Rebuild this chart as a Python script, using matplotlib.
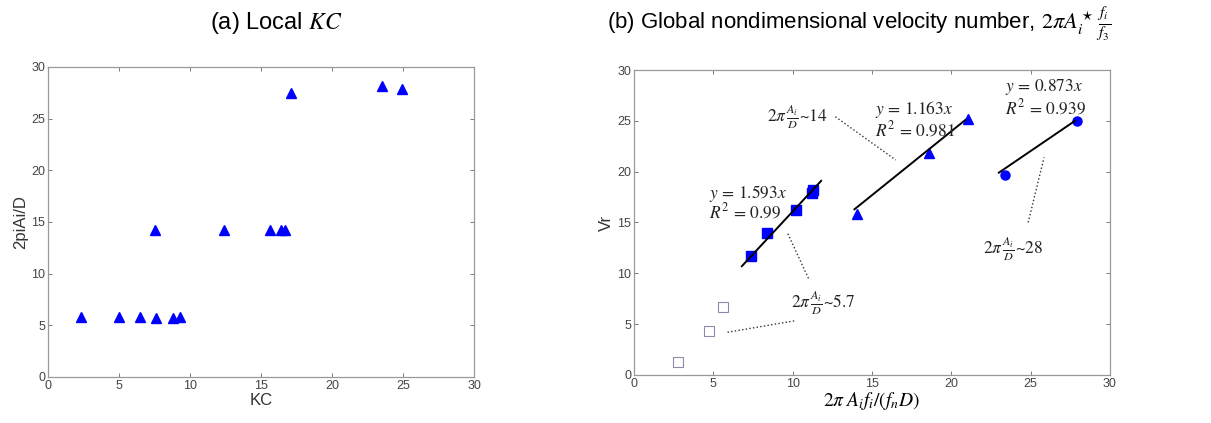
import matplotlib
matplotlib.use("Agg")
import matplotlib.pyplot as plt

plt.rcParams['font.family'] = ['Liberation Sans', 'DejaVu Sans']
plt.rcParams['mathtext.fontset'] = 'stix'

# (a) local KC vs 2*pi*Ai/D
kc = [2.3, 5.0, 6.5, 7.6, 7.5, 8.8, 9.3, 12.4, 15.6, 16.4, 16.7, 17.1, 23.5, 24.9]
amp = [5.8, 5.8, 5.8, 5.7, 14.2, 5.7, 5.8, 14.2, 14.2, 14.2, 14.2, 27.5, 28.1, 27.9]

# (b) Vr vs 2*pi*Ai*fi/(fn*D)
open_x = [2.8, 4.7, 5.6]
open_y = [1.25, 4.3, 6.7]
sq_x = [7.4, 8.4, 10.2, 11.2, 11.3]
sq_y = [11.7, 14.0, 16.2, 17.9, 18.2]
tri_x = [14.05, 18.6, 21.05]
tri_y = [15.8, 21.8, 25.2]
circ_x = [23.4, 27.9]
circ_y = [19.7, 25.0]

# fit line end points
fit_sq_x, fit_sq_y = [6.8, 11.8], [10.7, 19.1]
fit_tri_x, fit_tri_y = [13.9, 20.9], [16.3, 25.1]
fit_circ_x, fit_circ_y = [23.0, 27.8], [19.9, 25.0]

ticks = [0, 5, 10, 15, 20, 25, 30]
blue = '#0000ff'
spine_col = '#999999'


def style(ax):
    ax.set_xlim(0, 30)
    ax.set_ylim(0, 30)
    ax.set_xticks(ticks)
    ax.set_yticks(ticks)
    ax.tick_params(direction='in', top=True, right=True, length=3, width=0.6,
                   colors='#666666', labelsize=9, labelcolor='#444444', pad=2)
    for s in ax.spines.values():
        s.set_color(spine_col)
        s.set_linewidth(0.9)


fig = plt.figure(figsize=(12.11, 4.23), dpi=100)

ax1 = fig.add_axes([0.0396, 0.109, 0.352, 0.733])
ax1.plot(kc, amp, '^', color=blue, ms=7.5, mec=blue)
style(ax1)
ax1.set_xlabel('KC', fontsize=12, labelpad=1, color='#333333')
ax1.set_ylabel('2piAi/D', fontsize=12, labelpad=2, color='#333333')
fig.text(0.2285, 0.945, '(a) Local $KC$', fontsize=17, ha='center', va='center')

ax2 = fig.add_axes([0.5235, 0.1135, 0.393, 0.721])
ax2.plot(open_x, open_y, 's', mfc='white', mec='#8a8aaa', ms=7, mew=0.8)
ax2.plot(sq_x, sq_y, 's', color=blue, ms=6.5)
ax2.plot(tri_x, tri_y, '^', color=blue, ms=7)
ax2.plot(circ_x, circ_y, 'o', color=blue, ms=6.5)
ax2.plot(fit_sq_x, fit_sq_y, 'k-', lw=1.4)
ax2.plot(fit_tri_x, fit_tri_y, 'k-', lw=1.4)
ax2.plot(fit_circ_x, fit_circ_y, 'k-', lw=1.4)
style(ax2)
ax2.set_xlabel(r'$2\pi\;A_i f_i/(f_nD)$', fontsize=14, labelpad=0)
ax2.set_ylabel('Vr', fontsize=12, labelpad=2, color='#333333')

ann = dict(fontsize=12.5, color='#222222', family='STIXGeneral')
ax2.text(4.7, 17.9, r'$y\,=\,1.593x$', va='center', ha='left', **ann)
ax2.text(4.7, 16.0, r'$R^2\,=\,0.99$', va='center', ha='left', **ann)
ax2.text(15.2, 26.1, r'$y\,=\,1.163x$', va='center', ha='left', **ann)
ax2.text(15.2, 24.1, r'$R^2\,=\,0.981$', va='center', ha='left', **ann)
ax2.text(23.4, 28.3, r'$y\,=\,0.873x$', va='center', ha='left', **ann)
ax2.text(23.4, 26.3, r'$R^2\,=\,0.939$', va='center', ha='left', **ann)
ax2.text(10.3, 25.4, r'$2\pi\,\frac{A_i}{D}$~14', va='center', ha='center', **ann)
ax2.text(11.9, 7.1, r'$2\pi\,\frac{A_i}{D}$~5.7', va='center', ha='center', **ann)
ax2.text(23.9, 12.4, r'$2\pi\,\frac{A_i}{D}$~28', va='center', ha='center', **ann)

# dotted leaders
lead = dict(color='#333333', ls=':', lw=1.0)
ax2.plot([12.7, 16.5], [25.4, 21.15], **lead)
ax2.plot([9.7, 11.0], [13.9, 9.5], **lead)
ax2.plot([5.9, 10.2], [4.2, 5.35], **lead)
ax2.plot([24.85, 25.85], [15.0, 21.4], **lead)

fig.text(0.709, 0.945, r'(b) Global nondimensional velocity number, $2\pi A_i^\star\,\frac{f_i}{f_3}$',
         fontsize=16, ha='center', va='center')

fig.savefig('out.png', dpi=100)
